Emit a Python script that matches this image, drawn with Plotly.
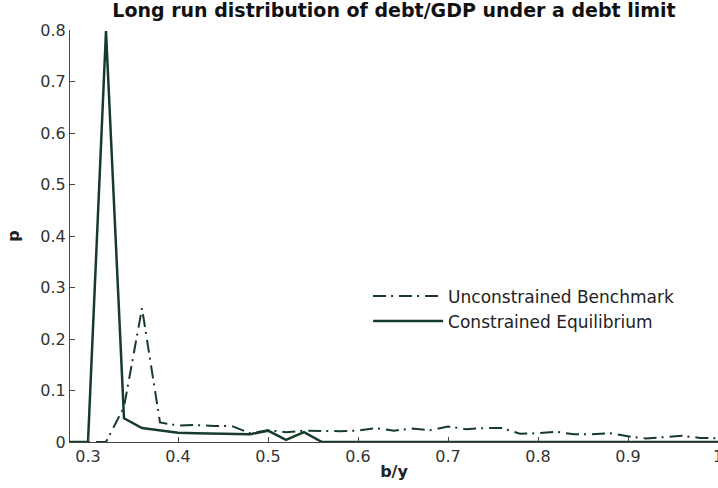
import plotly.graph_objects as go

# grid of debt/GDP values
b_y = [0.28, 0.30, 0.32, 0.34, 0.36, 0.38, 0.40, 0.42, 0.44, 0.46, 0.48, 0.50,
       0.52, 0.54, 0.56, 0.58, 0.60, 0.62, 0.64, 0.66, 0.68, 0.70, 0.72, 0.74,
       0.76, 0.78, 0.80, 0.82, 0.84, 0.86, 0.88, 0.90, 0.92, 0.94, 0.96, 0.98, 1.00]

p_unconstrained = [0.0, 0.0, 0.0, 0.068, 0.26, 0.038, 0.032, 0.033, 0.031, 0.031, 0.017, 0.023,
                   0.019, 0.022, 0.021, 0.021, 0.022, 0.027, 0.022, 0.026, 0.023, 0.030, 0.025, 0.027,
                   0.027, 0.016, 0.017, 0.020, 0.015, 0.015, 0.017, 0.011, 0.007, 0.009, 0.012, 0.008, 0.007]

p_constrained = [0.0, 0.0, 0.798, 0.046, 0.027, 0.022, 0.018, 0.017, 0.016, 0.015, 0.015, 0.022,
                 0.004, 0.019, 0.0, 0.0, 0.0, 0.0, 0.0, 0.0, 0.0, 0.0, 0.0, 0.0,
                 0.0, 0.0, 0.0, 0.0, 0.0, 0.0, 0.0, 0.0, 0.0, 0.0, 0.0, 0.0, 0.0]

x_ticks = [0.3, 0.4, 0.5, 0.6, 0.7, 0.8, 0.9, 1.0]
x_ticktext = ["0.3", "0.4", "0.5", "0.6", "0.7", "0.8", "0.9", "1"]
y_ticks = [0, 0.1, 0.2, 0.3, 0.4, 0.5, 0.6, 0.7, 0.8]
y_ticktext = ["0", "0.1", "0.2", "0.3", "0.4", "0.5", "0.6", "0.7", "0.8"]

LINE = "#163c29"
FONT = "DejaVu Sans"

fig = go.Figure()
fig.add_trace(go.Scatter(
    x=b_y, y=p_unconstrained, mode="lines", name="Unconstrained Benchmark",
    line=dict(color=LINE, width=2, dash="13px,5px,2px,6px")))
fig.add_trace(go.Scatter(
    x=b_y, y=p_constrained, mode="lines", name="Constrained Equilibrium",
    line=dict(color=LINE, width=2.5)))

axis_common = dict(showgrid=False, zeroline=False, showline=True, linecolor="#444444",
                   linewidth=1, ticks="inside", ticklen=5, tickcolor="#444444",
                   tickfont=dict(family=FONT, size=16, color="#333333"), mirror=False,
                   ticklabeloverflow="allow")

fig.update_xaxes(range=[0.28, 1.0], tickvals=x_ticks, ticktext=x_ticktext,
                 title=dict(text="<b>b/y</b>", font=dict(family=FONT, size=16, color="#222222"),
                            standoff=0),
                 **axis_common)
fig.update_yaxes(range=[0, 0.8], tickvals=y_ticks, ticktext=y_ticktext,
                 title=dict(text="<b>p</b>", font=dict(family=FONT, size=16, color="#222222"),
                            standoff=16),
                 **axis_common)

fig.update_layout(
    width=718, height=488,
    margin=dict(l=70, r=0, t=30, b=46, autoexpand=False),
    paper_bgcolor="white", plot_bgcolor="white",
    title=dict(text="<b>Long run distribution of debt/GDP under a debt limit</b>",
               x=0.5, xref="paper", xanchor="center", y=0.9785, yref="container", yanchor="middle",
               font=dict(family=FONT, size=19, color="#111111")),
    legend=dict(x=0.46, y=0.397, xanchor="left", yanchor="top", bgcolor="rgba(0,0,0,0)",
                font=dict(family=FONT, size=17, color="#222222"), itemwidth=70,
                tracegroupgap=0),
    showlegend=True,
)

fig.write_html("out.html", config={"displayModeBar": False},
               post_script="document.body.style.margin='0';document.body.style.overflow='hidden';")
